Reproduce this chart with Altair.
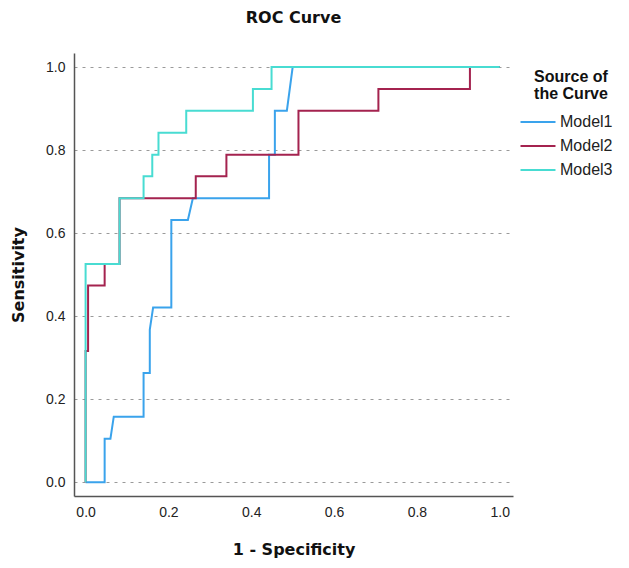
import altair as alt
import pandas as pd

models = ["Model1", "Model2", "Model3"]
colors = ["#3AA3EC", "#A4234F", "#48DCD2"]

m1_fpr = [0, 0.046, 0.046, 0.060, 0.068, 0.140, 0.140, 0.155, 0.155, 0.163, 0.207, 0.207, 0.247, 0.259, 0.443, 0.443, 0.457, 0.457, 0.486, 0.500, 1.0]
m1_tpr = [0, 0.0, 0.105, 0.105, 0.158, 0.158, 0.263, 0.263, 0.368, 0.421, 0.421, 0.632, 0.632, 0.684, 0.684, 0.789, 0.789, 0.895, 0.895, 1.0, 1.0]

m2_fpr = [0, 0, 0.006, 0.006, 0.046, 0.046, 0.082, 0.082, 0.266, 0.266, 0.340, 0.340, 0.514, 0.514, 0.707, 0.707, 0.928, 0.928, 1.0]
m2_tpr = [0, 0.316, 0.316, 0.474, 0.474, 0.526, 0.526, 0.684, 0.684, 0.737, 0.737, 0.789, 0.789, 0.895, 0.895, 0.947, 0.947, 1.0, 1.0]

m3_fpr = [0, 0, 0.082, 0.082, 0.140, 0.140, 0.161, 0.161, 0.176, 0.176, 0.243, 0.243, 0.404, 0.404, 0.449, 0.449, 1.0]
m3_tpr = [0, 0.526, 0.526, 0.684, 0.684, 0.737, 0.737, 0.789, 0.789, 0.842, 0.842, 0.895, 0.895, 0.947, 0.947, 1.0, 1.0]

x_ticks = [0.0, 0.2, 0.4, 0.6, 0.8, 1.0]
y_ticks = [0.0, 0.2, 0.4, 0.6, 0.8, 1.0]

rows = []
for name, fx, ty in zip(models, [m1_fpr, m2_fpr, m3_fpr], [m1_tpr, m2_tpr, m3_tpr]):
    for i, (a, b) in enumerate(zip(fx, ty)):
        rows.append({"model": name, "ord": i, "fpr": a, "tpr": b})
df = pd.DataFrame(rows)

chart = alt.Chart(df).mark_line(strokeWidth=2, interpolate="linear").encode(
    x=alt.X("fpr:Q",
            scale=alt.Scale(domain=[-0.028, 1.032], nice=False, zero=False),
            axis=alt.Axis(values=x_ticks, format=".1f", grid=False, ticks=False,
                          domainColor="#555555", domainWidth=1.5,
                          labelFont="Liberation Sans", labelFontSize=14, labelColor="#222222",
                          labelPadding=9, title="1 - Specificity",
                          titleFont="DejaVu Sans", titleFontWeight="bold", titleFontSize=16,
                          titleColor="#111111", titlePadding=22)),
    y=alt.Y("tpr:Q",
            scale=alt.Scale(domain=[-0.033, 1.034], nice=False, zero=False),
            axis=alt.Axis(values=y_ticks, format=".1f", grid=True, gridDash=[3, 5],
                          gridColor="#9a9a9a", gridWidth=1, ticks=False,
                          domainColor="#555555", domainWidth=1.5,
                          labelFont="Liberation Sans", labelFontSize=14, labelColor="#222222",
                          labelPadding=9, title="Sensitivity",
                          titleFont="DejaVu Sans", titleFontWeight="bold", titleFontSize=16,
                          titleColor="#111111", titlePadding=19)),
    color=alt.Color("model:N",
                    scale=alt.Scale(domain=models, range=colors),
                    legend=alt.Legend(title=["Source of", "the Curve"], orient="none",
                                      legendX=456, legendY=16,
                                      titleAnchor="middle", titleAlign="center",
                                      titleFont="Liberation Sans", titleFontWeight="bold",
                                      titleFontSize=16, titleLineHeight=17, titleColor="#111111",
                                      titlePadding=12,
                                      labelFont="Liberation Sans", labelFontSize=16,
                                      labelColor="#222222", labelOffset=14,
                                      symbolType="M-3,0H3", symbolSize=136, symbolStrokeWidth=2,
                                      rowPadding=8, padding=0)),
    order="ord:Q",
).properties(
    width=439,
    height=443,
    title=alt.TitleParams("ROC Curve", font="DejaVu Sans", fontWeight="bold", fontSize=16,
                          color="#111111", anchor="middle", offset=27),
    autosize=alt.AutoSizeParams(type="none"),
    padding={"left": 66, "top": 45, "right": 108, "bottom": 64},
).configure_view(stroke="transparent")

chart.save("out.html", embed_options={"renderer": "svg", "actions": False})
